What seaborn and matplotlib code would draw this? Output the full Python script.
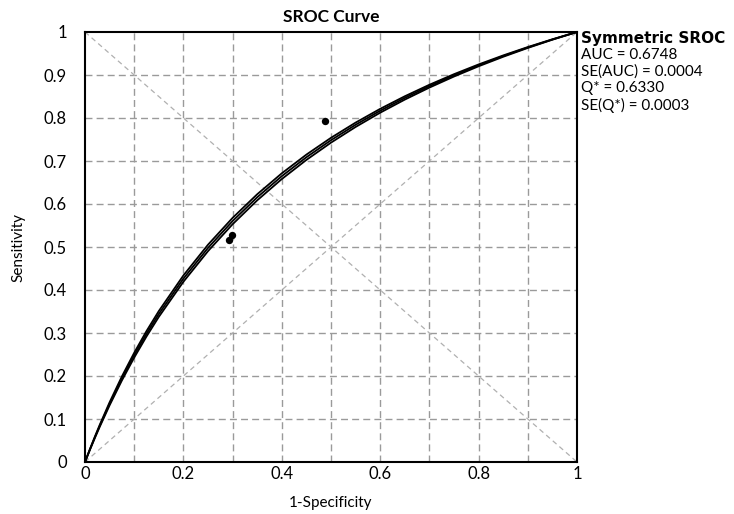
import numpy as np
import pandas as pd
import matplotlib
matplotlib.use("Agg")
import matplotlib.pyplot as plt
import seaborn as sns

# ---- data ----
fpr = [0, 0.01, 0.02, 0.03, 0.05, 0.075, 0.1, 0.125, 0.15, 0.2, 0.25, 0.3, 0.35,
       0.4, 0.45, 0.5, 0.55, 0.6, 0.65, 0.7, 0.75, 0.8, 0.85, 0.9, 0.95, 1.0]
sroc_mid = [0, 0.02917, 0.05723, 0.08424, 0.13535, 0.19430, 0.24839, 0.29820, 0.34422,
            0.42647, 0.49785, 0.56038, 0.61561, 0.66475, 0.70875, 0.74838, 0.78427,
            0.81690, 0.84671, 0.87406, 0.89922, 0.92246, 0.94399, 0.96399, 0.98261, 1.0]
sroc_upper = [0, 0.03003, 0.05887, 0.08658, 0.13890, 0.19904, 0.25403, 0.30451, 0.35101,
              0.43382, 0.50535, 0.56776, 0.62269, 0.67140, 0.71491, 0.75398, 0.78930,
              0.82134, 0.85057, 0.87732, 0.90191, 0.92458, 0.94556, 0.96502, 0.98312, 1.0]
sroc_lower = [0, 0.02833, 0.05563, 0.08195, 0.13188, 0.18965, 0.24283, 0.29196, 0.33747,
              0.41914, 0.49035, 0.55298, 0.60849, 0.65804, 0.70252, 0.74269, 0.77914,
              0.81237, 0.84278, 0.87072, 0.89647, 0.92029, 0.94238, 0.96293, 0.98209, 1.0]

study_fpr = [0.488, 0.298, 0.293]
study_sens = [0.793, 0.528, 0.516]

xtick_vals = [0, 0.2, 0.4, 0.6, 0.8, 1]
xtick_labels = ["0", "0.2", "0.4", "0.6", "0.8", "1"]
ytick_vals = [0, 0.1, 0.2, 0.3, 0.4, 0.5, 0.6, 0.7, 0.8, 0.9, 1]
ytick_labels = ["0", "0.1", "0.2", "0.3", "0.4", "0.5", "0.6", "0.7", "0.8", "0.9", "1"]
grid_vals = [0.1, 0.2, 0.3, 0.4, 0.5, 0.6, 0.7, 0.8, 0.9]

stats_title = "Symmetric SROC"
stats_lines = ["AUC = 0.6748", "SE(AUC) = 0.0004", "Q* = 0.6330", "SE(Q*) = 0.0003"]

# ---- plotting ----
sns.set_theme(style="white")
plt.rcParams["font.family"] = ["Lato", "DejaVu Sans"]

fig = plt.figure(figsize=(7.34, 5.14), dpi=100)
ax = fig.add_axes([85 / 734, 1 - 462 / 514, 492 / 734, 430 / 514])

# grid
for v in grid_vals:
    ax.axvline(v, color="#9a9a9a", lw=1.0, ls=(0, (5, 3)), zorder=1)
    ax.axhline(v, color="#9a9a9a", lw=1.0, ls=(0, (5, 3)), zorder=1)
# diagonals
ax.plot([0, 1], [0, 1], color="#b0b0b0", lw=0.9, ls=(0, (4, 3)), zorder=1)
ax.plot([0, 1], [1, 0], color="#b0b0b0", lw=0.9, ls=(0, (4, 3)), zorder=1)

df = pd.DataFrame({"fpr": fpr, "mid": sroc_mid, "up": sroc_upper, "lo": sroc_lower})
for col in ["up", "mid", "lo"]:
    sns.lineplot(data=df, x="fpr", y=col, ax=ax, color="black", lw=1.3,
                 sort=False, estimator=None, zorder=3)

pts = pd.DataFrame({"x": study_fpr, "y": study_sens})
sns.scatterplot(data=pts, x="x", y="y", ax=ax, color="black", s=28,
                edgecolor="black", linewidth=0, zorder=4)

ax.set_xlim(0, 1)
ax.set_ylim(0, 1)
ax.set_xticks(xtick_vals)
ax.set_xticklabels(xtick_labels)
ax.set_yticks(ytick_vals)
ax.set_yticklabels(ytick_labels)
ax.tick_params(axis="y", direction="in", length=3, width=1, pad=13, labelsize=12,
               colors="black")
ax.tick_params(axis="x", direction="in", length=3, width=1, pad=3, labelsize=12,
               colors="black")
for s in ax.spines.values():
    s.set_color("black")
    s.set_linewidth(1.5)

ax.set_xlabel("1-Specificity", fontsize=11, labelpad=10, color="black")
ax.set_ylabel("Sensitivity", fontsize=11, labelpad=13, color="black")
ax.set_title("SROC Curve", fontsize=12.5, fontweight="bold", pad=7, color="black")

fig.text(581 / 734, 1 - 38 / 514, stats_title, fontsize=11, fontweight="bold",
         family=["DejaVu Sans"], va="center", ha="left", color="black")
for i, line in enumerate(stats_lines):
    fig.text(581 / 734, 1 - (55 + i * 16.7) / 514, line, fontsize=11,
             va="center", ha="left", color="black")

fig.savefig("out.png", dpi=100)
